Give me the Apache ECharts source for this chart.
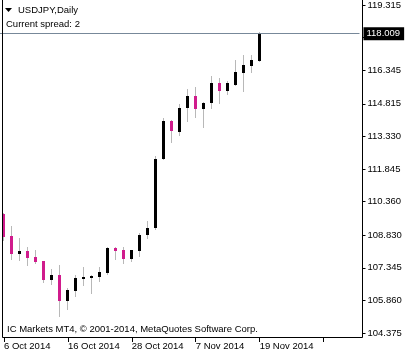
<!DOCTYPE html>
<html><head><meta charset="utf-8">
<script src="https://cdn.jsdelivr.net/npm/echarts@6/dist/echarts.min.js"></script>
<style>html,body{margin:0;padding:0;background:#fff}#c{width:405px;height:355px}</style>
</head><body><div id="c"></div>
<script>
const dates = ['6 Oct 2014','7 Oct 2014','8 Oct 2014','9 Oct 2014','10 Oct 2014','13 Oct 2014','14 Oct 2014','15 Oct 2014',
  '16 Oct 2014','17 Oct 2014','20 Oct 2014','21 Oct 2014','22 Oct 2014','23 Oct 2014','24 Oct 2014','27 Oct 2014',
  '28 Oct 2014','29 Oct 2014','30 Oct 2014','31 Oct 2014','3 Nov 2014','4 Nov 2014','5 Nov 2014','6 Nov 2014',
  '7 Nov 2014','10 Nov 2014','11 Nov 2014','12 Nov 2014','13 Nov 2014','14 Nov 2014','17 Nov 2014','18 Nov 2014','19 Nov 2014'];
const opens  = [109.78,108.78,107.98,108.10,107.83,107.65,106.80,107.01,105.84,106.30,106.84,106.89,106.93,107.11,108.25,108.14,107.75,108.10,108.83,109.14,112.30,114.04,113.55,114.61,115.18,114.56,114.83,115.77,115.42,115.69,116.24,116.55,116.78];
const highs  = [109.83,109.23,108.72,108.28,108.14,107.67,107.28,107.46,106.41,107.02,107.39,107.01,107.37,108.31,108.29,108.31,108.14,108.95,109.47,112.46,114.18,114.07,114.81,115.51,115.59,114.88,116.09,116.00,115.87,116.83,117.05,117.05,118.07];
const lows   = [108.63,107.74,107.70,107.49,107.56,106.71,106.60,105.16,105.45,106.07,106.56,106.21,106.75,107.08,107.76,107.55,107.66,107.88,108.70,109.09,112.28,113.09,113.38,114.01,114.20,113.78,114.61,114.83,115.24,115.69,115.41,116.27,116.78];
const closes = [108.75,107.99,108.10,107.80,107.61,106.80,107.01,105.84,106.35,106.88,106.93,106.96,107.16,108.24,108.11,107.76,108.14,108.86,109.18,112.31,114.05,113.56,114.64,115.18,114.57,114.87,115.77,115.41,115.74,116.27,116.59,116.82,118.01];
const yTicks = [104.375,105.860,107.345,108.830,110.360,111.845,113.330,114.815,116.345,117.830,119.315];
const bidPrice = 118.009;
const symbolTitle = 'USDJPY,Daily';
const spreadText = 'Current spread: 2';
const copyrightText = 'IC Markets MT4, \u00a9 2001-2014, MetaQuotes Software Corp.';
const emptySlots = 12;

const FONT = 'Liberation Sans';
const bullColor = '#000000', bearColor = '#d01b8c', wickColor = '#b8b8b8';

const categories = dates.concat(Array.from({length: emptySlots}, (_, k) => 'pad' + k));
const candleData = dates.map((d, i) => [i, opens[i], closes[i], lows[i], highs[i]]);

function renderCandle(params, api) {
  const i = api.value(0);
  const o = api.value(1), c = api.value(2), l = api.value(3), h = api.value(4);
  const pH = api.coord([i, h]), pL = api.coord([i, l]), pO = api.coord([i, o]), pC = api.coord([i, c]);
  const cx = Math.floor(pH[0]) + 0.5;
  const top = Math.round(Math.min(pO[1], pC[1]));
  const bot = Math.round(Math.max(pO[1], pC[1]));
  return {
    type: 'group',
    children: [
      {type: 'line', shape: {x1: cx, y1: Math.round(pH[1]), x2: cx, y2: Math.round(pL[1]) + 1}, style: {stroke: wickColor, lineWidth: 1}},
      {type: 'rect', shape: {x: cx - 1.5, y: top, width: 3, height: Math.max(bot - top, 1)}, style: {fill: c >= o ? bullColor : bearColor}}
    ]
  };
}

const chart = echarts.init(document.getElementById('c'), null, {renderer: 'canvas'});
chart.setOption({
  animation: false,
  backgroundColor: '#ffffff',
  grid: {left: -0.5, top: 0, width: 360, height: 337, containLabel: false},
  xAxis: {
    type: 'category', data: categories, boundaryGap: true,
    axisLine: {show: false},
    axisTick: {show: true, interval: 7, alignWithLabel: true, length: 5, lineStyle: {color: '#000', width: 1}},
    axisLabel: {interval: 7, align: 'left', margin: 4, color: '#000', fontFamily: FONT, fontSize: 9.5,
      formatter: (v, idx) => idx < dates.length ? v : ''},
    splitLine: {show: false}
  },
  yAxis: {
    type: 'value', position: 'right', offset: 3,
    min: 104.1934, max: 119.4976,
    axisLine: {show: false},
    splitLine: {show: false},
    axisTick: {show: true, length: 3, customValues: yTicks, lineStyle: {color: '#000', width: 1}},
    axisLabel: {customValues: yTicks, margin: 5, color: '#000', fontFamily: FONT, fontSize: 9.5,
      formatter: v => v.toFixed(3)}
  },
  series: [
    {type: 'custom', renderItem: renderCandle, data: candleData, encode: {x: 0, y: [1, 2, 3, 4]}, silent: true, clip: false},
    {type: 'line', data: [], silent: true,
      markLine: {silent: true, symbol: ['none', 'none'], animation: false,
        lineStyle: {color: '#778899', width: 1, type: 'solid'},
        emphasis: {disabled: true},
        label: {show: true, position: 'end', distance: 4, formatter: bidPrice.toFixed(3), color: '#fff',
          backgroundColor: '#000', padding: [2, 4, 1, 3], fontFamily: FONT, fontSize: 9.5},
        data: [{yAxis: bidPrice}]}}
  ],
  graphic: [
    {type: 'rect', z: 100, silent: true, shape: {x: 2.5, y: -1, width: 360, height: 338.5}, style: {fill: 'none', stroke: '#000', lineWidth: 1}},
    {type: 'polygon', z: 100, silent: true, shape: {points: [[5, 8], [12, 8], [8.5, 12]]}, style: {fill: '#000'}},
    {type: 'text', z: 100, silent: true, x: 18, y: 10, style: {text: symbolTitle, fill: '#000', font: '9.5px "Liberation Sans"', textVerticalAlign: 'middle'}},
    {type: 'text', z: 100, silent: true, x: 6, y: 24, style: {text: spreadText, fill: '#000', font: '9.5px "Liberation Sans"', textVerticalAlign: 'middle'}},
    {type: 'text', z: 100, silent: true, x: 7, y: 329, style: {text: copyrightText, fill: '#000', font: '9.5px "Liberation Sans"', textVerticalAlign: 'middle'}}
  ]
});
</script>
</body></html>
